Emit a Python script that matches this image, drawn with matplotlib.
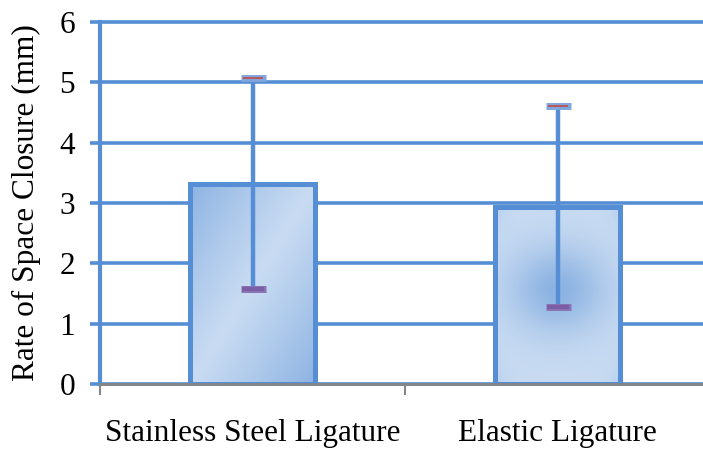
import numpy as np
import matplotlib.pyplot as plt
from matplotlib.colors import LinearSegmentedColormap

# dados
grupos = ['Stainless Steel Ligature', 'Elastic Ligature']
medias = [3.32, 2.94]
desvios = [1.75, 1.67]
yticks = [0, 1, 2, 3, 4, 5, 6]

azul = '#558ED5'
cinza = '#868686'
cmap = LinearSegmentedColormap.from_list('grad', ['#C8DBF2', '#8DB3E2'])

plt.rcParams['font.family'] = ['Liberation Serif', 'DejaVu Serif']
fs = 22.5

fig = plt.figure(figsize=(7.03, 4.5), dpi=100)
ax = fig.add_axes([100/703, 66/450, 603/703, 362/450])

x = np.arange(len(grupos))
largura = 0.41
barras = ax.bar(x, medias, largura, facecolor='none', edgecolor=azul,
                linewidth=3.6, zorder=4)

# preenchimento com gradiente (linear na 1a barra, radial na 2a)
u, v = np.meshgrid(np.linspace(0, 1, 120), np.linspace(1, 0, 200))
grad1 = np.abs(u - v) ** 1.1
cy = 1.56 / medias[1]
r = np.sqrt(((u - 0.5) * 0.62) ** 2 + (v - cy) ** 2)
grad2 = np.exp(-(r / 0.24) ** 2) + 0.35 * np.clip((np.abs(u - 0.5) * 2) ** 6 * (np.abs(v - 0.5) * 2) ** 4, 0, 1)
for b, g in zip(barras, [grad1, grad2]):
    x0, y0 = b.get_x(), b.get_y()
    im = ax.imshow(g, cmap=cmap, vmin=0, vmax=1, aspect='auto',
                   extent=[x0, x0 + b.get_width(), y0, y0 + b.get_height()],
                   zorder=3, interpolation='bilinear')
    im.set_clip_path(b)

# barras de erro
topo = np.array(medias) + np.array(desvios)
base = np.array(medias) - np.array(desvios)
ax.vlines(x, base, topo, color=azul, linewidth=3.2, zorder=5)
ax.plot(x, topo, linestyle='none', marker='_', markersize=18, mew=5, color='#7FA7DD', zorder=6)
ax.plot(x, topo, linestyle='none', marker='_', markersize=15, mew=1.3, color='#C0504D', zorder=7)
ax.plot(x, base, linestyle='none', marker='_', markersize=18, mew=5, color='#8A74B4', zorder=6)
ax.plot(x, base, linestyle='none', marker='_', markersize=16, mew=3, color='#7B5FA5', zorder=7)

ax.set_ylim(0, 6)
ax.set_xlim(-0.5, 1.477)
ax.set_yticks(yticks)
ax.set_yticklabels([str(t) for t in yticks], fontsize=fs)
ax.yaxis.grid(True, color=azul, linewidth=2.6)
for gl in ax.get_ygridlines():
    gl.set_clip_on(False)
ax.set_axisbelow(True)
ax.tick_params(axis='y', length=7, width=2.6, color=azul, pad=11)

ax.set_xticks([-0.5, 0.5])
ax.set_xticklabels([])
ax.set_xticks(x, minor=True)
ax.set_xticklabels(grupos, minor=True, fontsize=fs)
ax.tick_params(axis='x', which='major', length=8, width=1.5, color=cinza)
ax.tick_params(axis='x', which='minor', length=0, pad=25)

for s in ['top', 'right']:
    ax.spines[s].set_visible(False)
ax.spines['left'].set_color(azul)
ax.spines['left'].set_linewidth(3)
ax.spines['bottom'].set_color(cinza)
ax.spines['bottom'].set_linewidth(2)
ax.spines['bottom'].set_zorder(8)

ax.set_ylabel('Rate of Space Closure (mm)', fontsize=fs, labelpad=13)

plt.savefig('out.png', dpi=100)
